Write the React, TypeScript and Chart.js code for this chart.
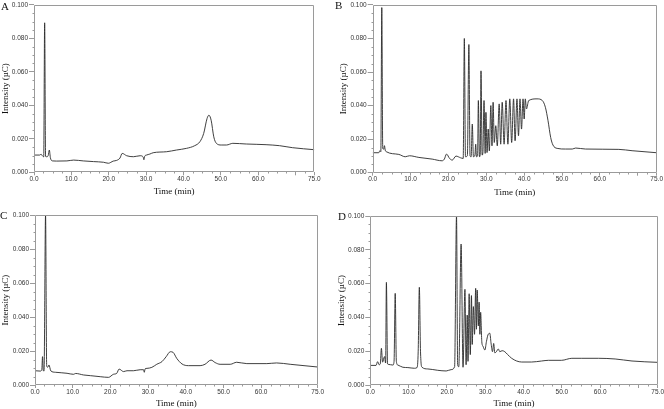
import React, { useEffect, useRef } from 'react';
import { Chart, registerables } from 'chart.js';

Chart.register(...registerables);

type Pt = [number, number];

// Chromatogram traces: [time (min), intensity (µC)]
const traceA: Pt[] = [
  [0, 0.0103], [1.5, 0.0103], [1.9, 0.0108], [2.2, 0.0100], [2.6, 0.0092], [2.85, 0.0893], [3.1, 0.0095],
  [3.4, 0.0093], [3.8, 0.0100], [4.1, 0.0133], [4.4, 0.0085], [5.0, 0.0068], [6.0, 0.0067], [8.8, 0.0068],
  [10.6, 0.0073], [13.2, 0.0068], [15.9, 0.0064], [18.6, 0.0060], [19.9, 0.0054], [21.2, 0.0067], [22.1, 0.0071],
  [23.0, 0.0085], [23.6, 0.0113], [24.8, 0.0099], [26.6, 0.0093], [28.4, 0.0099], [29.2, 0.0092], [29.4, 0.0075],
  [29.6, 0.0095], [30.1, 0.0103], [31.0, 0.0109], [31.9, 0.0117], [35.5, 0.0123], [38.1, 0.0133], [40.8, 0.0143],
  [43.0, 0.0159], [44.4, 0.0183], [45.4, 0.0232], [46.3, 0.0321], [46.8, 0.0341], [47.4, 0.0311], [48.1, 0.0212],
  [48.8, 0.0173], [50.1, 0.0163], [51.5, 0.0163], [53.2, 0.0173], [56.8, 0.0169], [62.1, 0.0165], [65.7, 0.0159],
  [69.2, 0.0147], [75, 0.0135],
];

const traceB: Pt[] = [
  [0, 0.0119], [1.6, 0.0119], [1.9, 0.0131], [2.15, 0.0125], [2.4, 0.0984], [2.65, 0.0145], [2.9, 0.0140],
  [3.1, 0.0161], [3.3, 0.0135], [3.6, 0.0125], [6.9, 0.0109], [8.6, 0.0095], [9.7, 0.0101], [12.2, 0.0091],
  [15.7, 0.0081], [18.3, 0.0071], [18.9, 0.0080], [19.5, 0.0111], [20.3, 0.0085], [21.0, 0.0075], [22.0, 0.0099],
  [23.2, 0.0089], [23.9, 0.0085], [24.2, 0.0800], [24.5, 0.0095], [25.0, 0.0100], [25.4, 0.0764], [25.7, 0.0100],
  [26.0, 0.0095], [26.3, 0.0290], [26.6, 0.0095], [27.0, 0.0105], [27.2, 0.0170], [27.4, 0.0095], [27.7, 0.0100],
  [27.9, 0.0430], [28.2, 0.0095], [28.4, 0.0110], [28.6, 0.0607], [28.9, 0.0105], [29.1, 0.0120], [29.4, 0.0430],
  [29.7, 0.0115], [29.9, 0.0360], [30.2, 0.0120], [30.5, 0.0260], [30.8, 0.0130], [31.2, 0.0400], [31.5, 0.0160],
  [31.8, 0.0420], [32.1, 0.0180], [32.5, 0.0280], [32.9, 0.0160], [33.4, 0.0410], [33.8, 0.0170], [34.2, 0.0420],
  [34.7, 0.0170], [35.2, 0.0430], [35.7, 0.0170], [36.2, 0.0440], [36.7, 0.0180], [37.2, 0.0440], [37.6, 0.0190],
  [38.1, 0.0440], [38.5, 0.0220], [38.9, 0.0440], [39.3, 0.0260], [39.7, 0.0440], [40.0, 0.0320], [40.3, 0.0440],
  [40.6, 0.0380], [41.2, 0.0430], [43.4, 0.0440], [44.8, 0.0430], [45.6, 0.0390], [46.3, 0.0310], [47.0, 0.0210],
  [47.6, 0.0165], [48.7, 0.0145], [50.9, 0.0141], [52.7, 0.0141], [53.6, 0.0147], [56.2, 0.0141], [65.0, 0.0139],
  [68.5, 0.0131], [75, 0.0119],
];

const traceC: Pt[] = [
  [0, 0.0084], [1.4, 0.0082], [1.8, 0.0090], [2.0, 0.0167], [2.2, 0.0085], [2.4, 0.0082], [2.8, 0.1000],
  [3.1, 0.0110], [3.4, 0.0105], [3.7, 0.0118], [4.2, 0.0083], [5.4, 0.0075], [8.5, 0.0069], [10.2, 0.0063],
  [10.8, 0.0068], [12.9, 0.0059], [14.7, 0.0055], [17.3, 0.0049], [19.5, 0.0045], [20.8, 0.0063], [21.7, 0.0069],
  [22.3, 0.0094], [23.5, 0.0079], [24.4, 0.0084], [26.1, 0.0084], [27.9, 0.0090], [28.8, 0.0090], [29.0, 0.0075],
  [29.2, 0.0095], [29.7, 0.0098], [31.0, 0.0104], [32.3, 0.0122], [33.7, 0.0138], [34.8, 0.0167], [35.9, 0.0196],
  [36.6, 0.0193], [37.6, 0.0157], [39.0, 0.0124], [40.7, 0.0114], [43.8, 0.0114], [45.1, 0.0122], [46.7, 0.0147],
  [47.8, 0.0132], [49.1, 0.0122], [51.8, 0.0122], [53.5, 0.0134], [56.2, 0.0126], [61.5, 0.0126], [64.1, 0.0130],
  [67.7, 0.0122], [75, 0.0106],
];

const traceD: Pt[] = [
  [0, 0.0116], [1.5, 0.0116], [1.9, 0.0138], [2.3, 0.0120], [2.6, 0.0125], [2.9, 0.0217], [3.2, 0.0135],
  [3.7, 0.0168], [4.0, 0.0130], [4.2, 0.0607], [4.5, 0.0125], [4.7, 0.0122], [5.9, 0.0118], [6.2, 0.0140],
  [6.5, 0.0542], [6.8, 0.0140], [7.2, 0.0118], [8.5, 0.0105], [9.8, 0.0103], [11.5, 0.0099], [12.2, 0.0103],
  [12.5, 0.0200], [12.8, 0.0578], [13.1, 0.0200], [13.5, 0.0105], [15.0, 0.0095], [17.6, 0.0087], [19.8, 0.0083],
  [21.1, 0.0091], [22.0, 0.0108], [22.5, 0.1000], [22.8, 0.0120], [23.1, 0.0108], [23.7, 0.0834], [24.2, 0.0105],
  [24.7, 0.0566], [25.0, 0.0120], [25.3, 0.0414], [25.5, 0.0140], [25.8, 0.0540], [26.1, 0.0180], [26.4, 0.0529],
  [26.6, 0.0240], [26.9, 0.0464], [27.2, 0.0300], [27.5, 0.0572], [27.7, 0.0330], [27.9, 0.0562], [28.2, 0.0350],
  [28.4, 0.0490], [28.6, 0.0300], [28.8, 0.0430], [29.1, 0.0256], [29.4, 0.0230], [29.9, 0.0207], [30.3, 0.0256],
  [30.7, 0.0296], [31.2, 0.0306], [31.5, 0.0250], [31.9, 0.0197], [32.2, 0.0246], [32.5, 0.0190], [32.9, 0.0197],
  [33.4, 0.0213], [33.8, 0.0197], [34.4, 0.0203], [35.1, 0.0197], [35.8, 0.0181], [36.9, 0.0158], [38.2, 0.0142],
  [39.5, 0.0136], [42.1, 0.0136], [44.7, 0.0142], [46.5, 0.0146], [49.9, 0.0146], [52.6, 0.0158], [55.2, 0.0158],
  [59.6, 0.0158], [63.9, 0.0154], [68.3, 0.0142], [75, 0.0134],
];

const xTickValues = [0, 10, 20, 30, 40, 50, 60, 70, 75];
const xUnlabelled = [70];
const xMinorStep = 2.5;
const yMin = 0;
const yMax = 0.1;
const yStep = 0.02;
const yMinorStep = 0.005;
const xMin = 0;
const xMax = 75;
const xTitle = 'Time (min)';
const yTitle = 'Intensity (µC)';

const AXIS_COLOR = '#9a9a9a';
const TEXT_COLOR = '#333333';
const LINE_COLOR = '#2a2a2a';
const SANS = '"Liberation Sans", Arial, sans-serif';
const SERIF = '"Liberation Serif", "Times New Roman", serif';

interface PanelSpec {
  letter: string;
  trace: Pt[];
  left: number;
  top: number;
  width: number;
  height: number;
  plotL: number;
  plotT: number;
  plotR: number;
  plotB: number;
  yTitlePad: number;
  xTitlePad: number;
  letterX: number;
  letterY: number;
}

const panels: PanelSpec[] = [
  { letter: 'A', trace: traceA, left: 0, top: 0, width: 332, height: 205, plotL: 34, plotT: 4.5, plotR: 314.3, plotB: 172.3, yTitlePad: 0, xTitlePad: 7.6, letterX: 1, letterY: 1 },
  { letter: 'B', trace: traceB, left: 332, top: 0, width: 332, height: 205, plotL: 40.7, plotT: 4.7, plotR: 324.7, plotB: 172.7, yTitlePad: 6.6, xTitlePad: 6.9, letterX: 335, letterY: 0 },
  { letter: 'C', trace: traceC, left: 0, top: 205, width: 332, height: 204, plotL: 35, plotT: 10.3, plotR: 317.7, plotB: 180, yTitlePad: 0.3, xTitlePad: 0, letterX: 0, letterY: 210 },
  { letter: 'D', trace: traceD, left: 332, top: 205, width: 332, height: 204, plotL: 38.3, plotT: 11, plotR: 325.7, plotB: 180, yTitlePad: 3.9, xTitlePad: 0, letterX: 338, letterY: 211 },
];

const framePlugin = {
  id: 'frameMinor',
  afterDraw(chart: any) {
    const { ctx, chartArea: a, scales } = chart;
    const xs = scales.x;
    const ys = scales.y;
    ctx.save();
    ctx.strokeStyle = AXIS_COLOR;
    ctx.lineWidth = 1;
    const L = Math.round(a.left) + 0.5;
    const R = Math.round(a.right) - 0.5;
    const T = Math.round(a.top) + 0.5;
    const B = Math.round(a.bottom) - 0.5;
    ctx.beginPath();
    ctx.rect(L, T, R - L, B - T);
    ctx.stroke();
    ctx.beginPath();
    for (let v = xMin; v <= xMax + 1e-9; v += xMinorStep) {
      if (xTickValues.some((t) => Math.abs(t - v) < 1e-6)) continue;
      const px = Math.round(xs.getPixelForValue(v)) + 0.5;
      ctx.moveTo(px, B);
      ctx.lineTo(px, B + 2);
    }
    for (let v = yMin; v <= yMax + 1e-9; v += yMinorStep) {
      const k = v / yStep;
      if (Math.abs(k - Math.round(k)) < 1e-6) continue;
      const py = Math.round(ys.getPixelForValue(v)) + 0.5;
      ctx.moveTo(L - 2, py);
      ctx.lineTo(L, py);
    }
    ctx.stroke();
    ctx.restore();
  },
};

function Panel({ spec }: { spec: PanelSpec }) {
  const ref = useRef<HTMLCanvasElement | null>(null);
  useEffect(() => {
    const canvas = ref.current;
    if (!canvas) return;
    const chart = new Chart(canvas, {
      type: 'line',
      data: {
        datasets: [
          {
            data: spec.trace.map(([x, y]) => ({ x, y })),
            borderColor: LINE_COLOR,
            borderWidth: 0.9,
            pointRadius: 0,
            fill: false,
            cubicInterpolationMode: 'monotone',
          },
        ],
      },
      options: {
        responsive: false,
        animation: false,
        devicePixelRatio: 1,
        events: [],
        layout: {
          padding: { left: 0, top: spec.plotT, right: spec.width - spec.plotR, bottom: 0 },
        },
        plugins: { legend: { display: false }, tooltip: { enabled: false } },
        scales: {
          x: {
            type: 'linear',
            min: xMin,
            max: xMax,
            afterBuildTicks: (s: any) => {
              s.ticks = xTickValues.map((v) => ({ value: v }));
            },
            afterFit: (s: any) => {
              s.height = spec.height - spec.plotB;
            },
            border: { display: false },
            grid: { display: true, drawOnChartArea: false, drawTicks: true, tickLength: 3, color: AXIS_COLOR, lineWidth: 1 },
            ticks: {
              autoSkip: false,
              maxRotation: 0,
              padding: 0,
              color: TEXT_COLOR,
              font: { family: SANS, size: 6.5 },
              callback: (v: any) => (xUnlabelled.includes(Number(v)) ? '' : Number(v).toFixed(1)),
            },
            title: {
              display: true,
              text: xTitle,
              color: '#111',
              font: { family: SERIF, size: 9 },
              padding: { top: 0, bottom: spec.xTitlePad },
            },
          },
          y: {
            type: 'linear',
            min: yMin,
            max: yMax,
            afterFit: (s: any) => {
              s.width = spec.plotL;
            },
            border: { display: false },
            grid: { display: true, drawOnChartArea: false, drawTicks: true, tickLength: 5, color: AXIS_COLOR, lineWidth: 1 },
            ticks: {
              stepSize: yStep,
              padding: 1,
              color: TEXT_COLOR,
              font: { family: SANS, size: 6.5 },
              callback: (v: any) => Number(v).toFixed(3),
            },
            title: {
              display: true,
              text: yTitle,
              color: '#111',
              font: { family: SERIF, size: 9 },
              padding: { top: spec.yTitlePad, bottom: 0 },
            },
          },
        },
      },
      plugins: [framePlugin],
    } as any);
    return () => chart.destroy();
  }, [spec]);
  return (
    <canvas
      ref={ref}
      width={spec.width}
      height={spec.height}
      style={{ position: 'absolute', left: spec.left, top: spec.top, width: spec.width, height: spec.height }}
    />
  );
}

export default function App() {
  return (
    <div style={{ position: 'absolute', left: 0, top: 0, width: 664, height: 409, background: '#fff', overflow: 'hidden' }}>
      {panels.map((p) => (
        <Panel key={p.letter} spec={p} />
      ))}
      {panels.map((p) => (
        <div
          key={'l' + p.letter}
          style={{
            position: 'absolute',
            left: p.letterX,
            top: p.letterY,
            fontFamily: SERIF,
            fontSize: 11,
            lineHeight: '11px',
            color: '#111',
          }}
        >
          {p.letter}
        </div>
      ))}
    </div>
  );
}
